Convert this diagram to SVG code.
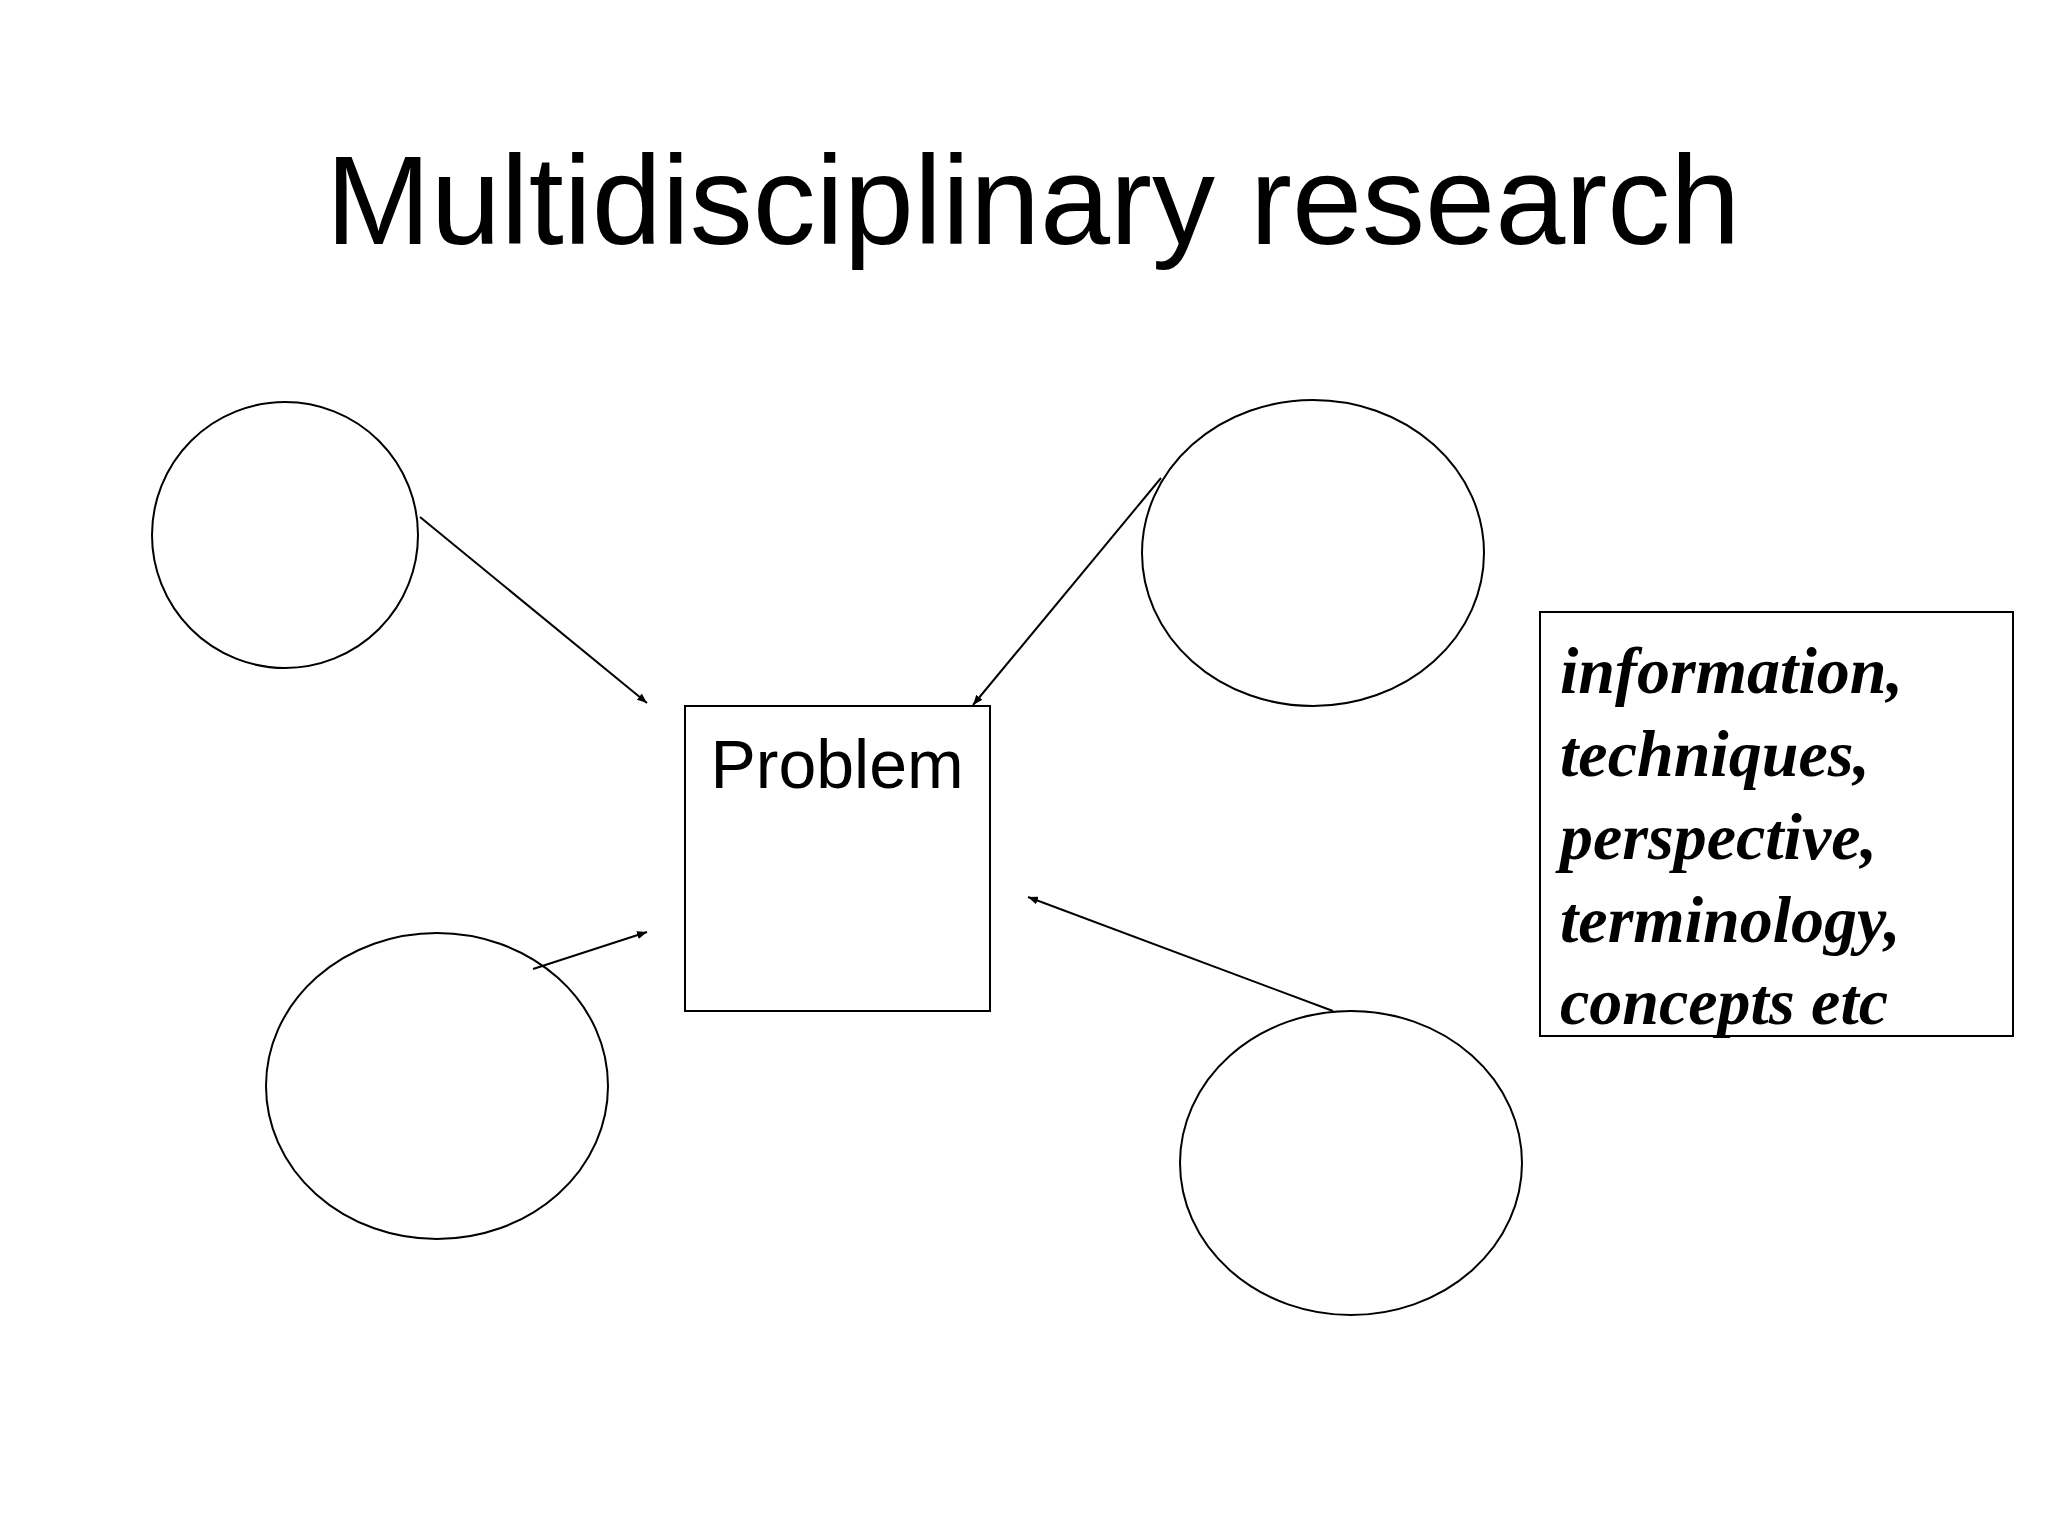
<svg xmlns="http://www.w3.org/2000/svg" width="2048" height="1536" viewBox="0 0 2048 1536">
<style>
.s{fill:none;stroke:#000;stroke-width:2}
.c{stroke:#000;stroke-width:2;fill:none}
</style>
<defs><marker id="a" markerWidth="10" markerHeight="8" refX="10" refY="4" orient="auto" markerUnits="userSpaceOnUse"><path d="M0,0 L10,4 L0,8 Z" fill="#000"/></marker></defs>
<rect width="2048" height="1536" fill="#fff"/>
<text x="1033" y="244" font-family="Liberation Sans, Arial, sans-serif" font-size="126" text-anchor="middle">Multidisciplinary research</text>
<g id="n1"><circle class="s" cx="285" cy="535" r="133"/></g>
<g id="n2"><ellipse class="s" cx="1313" cy="553" rx="171" ry="153"/></g>
<g id="n3"><ellipse class="s" cx="437" cy="1086" rx="171" ry="153"/></g>
<g id="n4"><ellipse class="s" cx="1351" cy="1163" rx="171" ry="152"/></g>
<g id="problem"><rect class="s" x="685" y="706" width="305" height="305"/><text x="837" y="788" font-family="Liberation Sans, Arial, sans-serif" font-size="68" text-anchor="middle">Problem</text></g>
<g id="info"><rect class="s" x="1540" y="612" width="473" height="424"/>
<text font-family="Liberation Serif, Times New Roman, serif" font-size="66" font-weight="bold" font-style="italic">
<tspan x="1560" y="693">information,</tspan><tspan x="1560" y="776">techniques,</tspan><tspan x="1560" y="859">perspective,</tspan><tspan x="1560" y="942">terminology,</tspan><tspan x="1560" y="1024">concepts etc</tspan></text></g>
<g id="connectors">
<line class="c" x1="420" y1="517" x2="647" y2="703" marker-end="url(#a)"/>
<line class="c" x1="1161" y1="478" x2="973" y2="705" marker-end="url(#a)"/>
<line class="c" x1="533" y1="969" x2="647" y2="932" marker-end="url(#a)"/>
<line class="c" x1="1333" y1="1011" x2="1028" y2="897" marker-end="url(#a)"/>
</g>
</svg>
